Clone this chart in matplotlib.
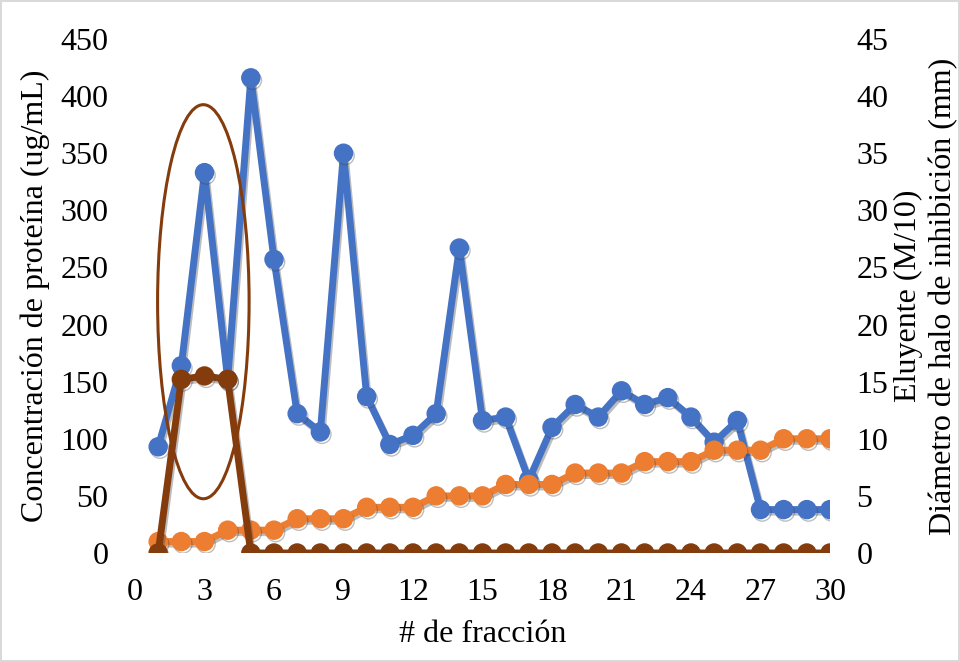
import matplotlib
matplotlib.use('Agg')
import matplotlib.pyplot as plt
import matplotlib.patheffects as pe
from matplotlib.patches import Ellipse

# fraction number
fraccion = list(range(1, 31))

# protein concentration (ug/mL), left axis
proteina = [93, 164, 333, 152, 416, 257, 122, 106, 350, 137,
            95, 103, 122, 267, 116, 119, 64, 110, 130, 119,
            142, 130, 136, 119, 97, 116, 38, 38, 38, 38]

# eluent (M/10), right axis
eluyente = [1, 1, 1, 2, 2, 2, 3, 3, 3, 4,
            4, 4, 5, 5, 5, 6, 6, 6, 7, 7,
            7, 8, 8, 8, 9, 9, 9, 10, 10, 10]

# inhibition halo diameter (mm), right axis
halo = [0, 15.2, 15.5, 15.2, 0, 0, 0, 0, 0, 0,
        0, 0, 0, 0, 0, 0, 0, 0, 0, 0,
        0, 0, 0, 0, 0, 0, 0, 0, 0, 0]

xticks = list(range(0, 31, 3))
yticks_left = list(range(0, 451, 50))
yticks_right = list(range(0, 46, 5))

BLUE = '#4472C4'
ORANGE = '#ED7D31'
BROWN = '#843C0C'
FS = 23

plt.rcParams['font.family'] = ['Liberation Serif', 'DejaVu Serif']
plt.rcParams['font.size'] = FS

W, H = 960, 662
fig = plt.figure(figsize=(W / 100, H / 100), dpi=100)
fig.patch.set_edgecolor('#d9d9d9')
fig.patch.set_linewidth(1.5)
# plot area in pixels: x 135..830, y 39..553
ax = fig.add_axes([135 / W, 1 - 553 / H, (830 - 135) / W, (553 - 39) / H])
ax2 = ax.twinx()

shadow = [pe.SimpleLineShadow(offset=(1.2, -1.8), alpha=0.35, shadow_color='#444444'),
          pe.Normal()]
style = dict(linewidth=5, marker='o', markersize=13, path_effects=shadow)

ax.plot(fraccion, proteina, color=BLUE, **style)
ax2.plot(fraccion, eluyente, color=ORANGE, zorder=2, **style)
ax2.plot(fraccion, halo, color=BROWN, zorder=3, **style)

# highlight around the active fractions
ax2.add_patch(Ellipse((2.95, 22.0), width=3.95, height=34.5, fill=False,
                      edgecolor=BROWN, linewidth=2.2, zorder=4))

ax.set_xlim(0, 30)
ax.set_ylim(0, 450)
ax2.set_ylim(0, 45)
ax.set_xticks(xticks)
ax.set_yticks(yticks_left)
ax2.set_yticks(yticks_right)

for a in (ax, ax2):
    for s in a.spines.values():
        s.set_visible(False)
    a.tick_params(length=0, labelsize=FS)
ax.tick_params(axis='x', pad=18)
ax.tick_params(axis='y', pad=19)
ax2.tick_params(axis='y', pad=19)

ax.set_xlabel('# de fracción', fontsize=FS)
ax.xaxis.set_label_coords((483 - 135) / (830 - 135), -(635 - 553) / (553 - 39))
ax.xaxis.label.set_va('center')

ax.set_ylabel('Concentración de proteína (ug/mL)', fontsize=FS)
ax.yaxis.set_label_coords(-(135 - 35) / (830 - 135), 0.5)
ax.yaxis.label.set_va('center')

ax2.set_ylabel('Eluyente (M/10)\nDiámetro de halo de inhibición (mm)',
               fontsize=FS, linespacing=1.25)
ax2.yaxis.set_label_coords((926 - 135) / (830 - 135), 0.5)
ax2.yaxis.label.set_va('center')

fig.savefig('out.png', dpi=100)
